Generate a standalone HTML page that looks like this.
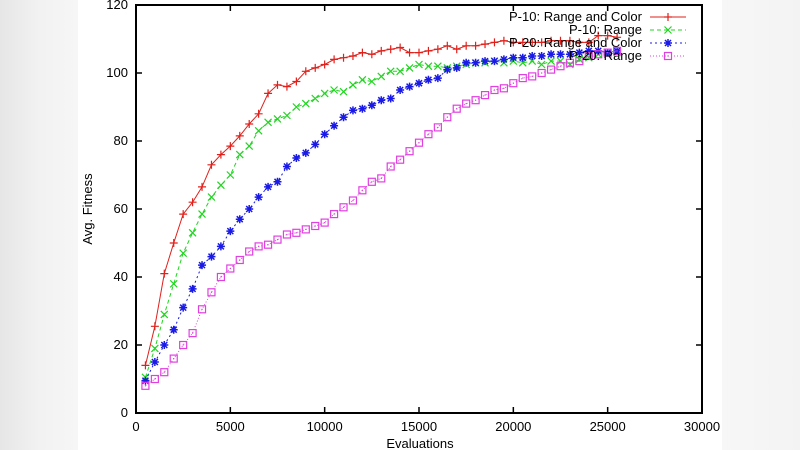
<!DOCTYPE html>
<html><head><meta charset="utf-8"><style>
html,body{margin:0;padding:0;width:800px;height:450px;overflow:hidden;background:#fff}
#bg{position:absolute;left:0;top:0;width:800px;height:450px;
background:linear-gradient(90deg,#e6e6e6 0px,#f2f2f2 40px,#f6f6f6 78px,#fff 78px,#fff 722px,#f7f7f7 722px,#f3f3f3 800px)}
svg{position:absolute;left:0;top:0}
text{font-family:"Liberation Sans",sans-serif;font-size:13px;fill:#000}
</style></head><body>
<div id="bg"></div>
<svg id="chart" width="800" height="450"></svg>
<script>
const xs=[];for(let i=0;i<51;i++)xs.push(500+500*i);
const evaluations=xs;
const xTicks=[0,5000,10000,15000,20000,25000,30000];
const yTicks=[0,20,40,60,80,100,120];
const seriesNames=["P-10: Range and Color","P-10: Range","P-20: Range and Color","P-20: Range"];
const red=[14,25.5,41,50,58.5,62,66.5,73,76,78.5,81.5,85,88,94,96.5,96,97.5,100.5,101.5,102.5,104,104.5,105,106,105.5,106.5,107,107.5,106,106,106.5,107,108,107,108,108,108.5,109,109.5,109,109,109,109,109.5,109.5,109.5,109,109,111,111,110.5];
const green=[10.5,19,29,38,47,53,58.5,63.5,67,70,76,78.5,83,85.5,86.5,87.5,90,91,92.5,94,95,94.5,96.5,98,97.5,99,100.5,100.5,101.5,102.5,102,102,101.5,102,102.5,103,103,103.5,103,103.5,103,103.5,102.5,103.5,103.5,102.5,104,104.5,105.5,105.5,106];
const blue=[9.5,15,20,24.5,31,36.5,43.5,46,49,53.5,57,60,63.5,66.5,68,72.5,75,76.5,79,82,84.5,87,89,89.5,90.5,92,92.5,95,96,97,98,98.5,101,101.5,103,103,103.5,103.5,104,104.5,104.5,105,105,105.5,105.5,105.5,106,106.5,106.5,106,106.5];
const magenta=[8,10,12,16,20,23.5,30.5,35.5,40,42.5,45,47.5,49,49.5,51,52.5,53,54,55,56,58.5,60.5,62.5,65.5,68,69,72.5,74.5,77,79.5,82,84,87,89.5,91,92,93.5,95,95.5,97,98.5,99,100,101,102,103,103.5,105,105.5,106,106.5];

const L=136,R=702,T=5,B=413;
const X=v=>L+(v-0)/30000*(R-L);
const Y=v=>B-(v-0)/120*(B-T);
const svg=document.getElementById('chart');
const NS='http://www.w3.org/2000/svg';
function mk(tag,at,parent){const e=document.createElementNS(NS,tag);for(const k in at)e.setAttribute(k,at[k]);(parent||svg).appendChild(e);return e;}
function marker(kind,x,y,col,g){
  if(kind===0){mk('path',{d:`M${x-4},${y}H${x+4}M${x},${y-4}V${y+4}`,stroke:col,'stroke-width':1.2,fill:'none'},g);}
  else if(kind===1){mk('path',{d:`M${x-3.5},${y-3.5}L${x+3.5},${y+3.5}M${x-3.5},${y+3.5}L${x+3.5},${y-3.5}`,stroke:col,'stroke-width':1.2,fill:'none'},g);}
  else if(kind===2){mk('path',{d:`M${x-4},${y}H${x+4}M${x},${y-4}V${y+4}M${x-3},${y-3}L${x+3},${y+3}M${x-3},${y+3}L${x+3},${y-3}`,stroke:col,'stroke-width':1.5,fill:'none'},g);}
  else {mk('rect',{x:x-3.5,y:y-3.5,width:7,height:7,stroke:col,'stroke-width':1.2,fill:'none'},g);
        mk('rect',{x:x-0.6,y:y-0.6,width:1.2,height:1.2,fill:col},g);}
}
const ax=mk('g',{});


mk('rect',{x:L,y:T,width:R-L,height:B-T,fill:'none',stroke:'#000','stroke-width':2},ax);
xTicks.forEach(v=>{
  mk('line',{x1:X(v),x2:X(v),y1:B,y2:B-6,stroke:'#000','stroke-width':1.5},ax);
  mk('line',{x1:X(v),x2:X(v),y1:T,y2:T+6,stroke:'#000','stroke-width':1.5},ax);
  const t=mk('text',{x:X(v),y:B+18,'text-anchor':'middle'},ax);t.textContent=v;
  
  
});
yTicks.forEach(v=>{
  mk('line',{x1:L,x2:L+6,y1:Y(v),y2:Y(v),stroke:'#000','stroke-width':1.5},ax);
  mk('line',{x1:R,x2:R-6,y1:Y(v),y2:Y(v),stroke:'#000','stroke-width':1.5},ax);
  const t=mk('text',{x:L-8,y:Y(v)+4,'text-anchor':'end'},ax);t.textContent=v;
  
  
});
const xt=mk('text',{x:420,y:448,'text-anchor':'middle'});xt.textContent='Evaluations';


const yt=mk('text',{x:92,y:209,'text-anchor':'middle',transform:'rotate(-90 92 209)'});yt.textContent='Avg. Fitness';



const all=[red,green,blue,magenta];
const cols=['#e0201b','#22d422','#1a1ae6','#e040e0'];
const dash=['none','4,3','2,3','1,2'];
all.forEach((s,i)=>{
  const g=mk('g',{});
  
  
  const d=s.map((v,j)=>(j?'L':'M')+X(evaluations[j])+','+Y(v)).join('');
  mk('path',{d:d,fill:'none',stroke:cols[i],'stroke-width':1,'stroke-dasharray':dash[i]},g);
  s.forEach((v,j)=>marker(i,X(evaluations[j]),Y(v),cols[i],g));
  const ly=17+i*13;
  const lg=mk('g',{});
  
  
  const t=mk('text',{x:642,y:ly+4,'text-anchor':'end'},lg);t.textContent=seriesNames[i];
  mk('line',{x1:650,x2:686,y1:ly,y2:ly,stroke:cols[i],'stroke-width':1,'stroke-dasharray':dash[i]},lg);
  marker(i,668,ly,cols[i],lg);
});
</script>
</body></html>
